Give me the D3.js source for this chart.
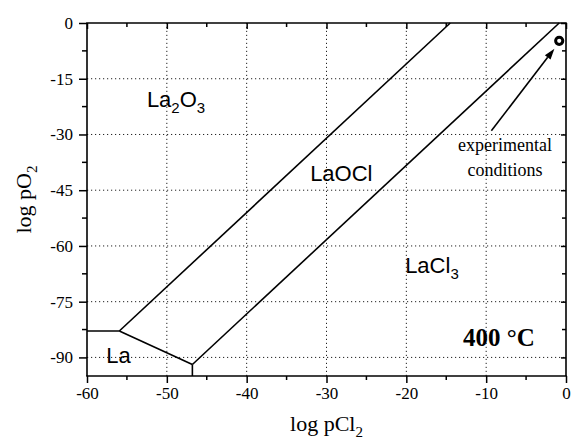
<!DOCTYPE html>
<html>
<head>
<meta charset="utf-8">
<script src="https://cdn.jsdelivr.net/npm/d3@7"></script>
<style>
  body { margin: 0; background: #fff; }
  text { fill: #000; }
</style>
</head>
<body>
<svg id="chart" width="572" height="440"></svg>
<script>
// Axis ranges and ticks (log pCl2 on x, log pO2 on y)
const xDomain = [-60, 0];
const yDomain = [-95, 0];
const xMajorTicks = [-60, -50, -40, -30, -20, -10, 0];
const xMinorTicks = [-55, -45, -35, -25, -15, -5];
const yMajorTicks = [0, -15, -30, -45, -60, -75, -90];
const yMinorTicks = [-7.5, -22.5, -37.5, -52.5, -67.5, -82.5];

// Phase boundaries, each a list of [log pCl2, log pO2] points
const boundaryLaLa2O3 = [[-60, -82.9], [-55.95, -82.9]];
const boundaryLaLaOCl = [[-55.95, -82.9], [-46.8, -91.9]];
const boundaryLaLaCl3 = [[-46.8, -91.9], [-46.8, -95]];
const boundaryLa2O3LaOCl = [[-55.95, -82.9], [-14.5, 0]];
const boundaryLaOClLaCl3 = [[-46.8, -91.9], [-0.85, 0]];

// Operating point of the experiment
const experimentalPoint = [-0.85, -4.8];

// Stability field names: main text and subscripts
const fieldNames = [
  { parts: [["La", false], ["2", true], ["O", false], ["3", true]], at: [-52.5, -22.5] },
  { parts: [["LaOCl", false]], at: [-32.05, -42.4] },
  { parts: [["LaCl", false], ["3", true]], at: [-20.15, -67.3] },
  { parts: [["La", false]], at: [-57.6, -91.5] }
];

const svg = d3.select("#chart");
const margin = { left: 87, right: 6, top: 23, bottom: 64 };
const W = 572, H = 440;
const x = d3.scaleLinear().domain(xDomain).range([margin.left, W - margin.right]);
const y = d3.scaleLinear().domain(yDomain).range([H - margin.bottom, margin.top]);

const serif = "'Liberation Serif', 'Times New Roman', serif";
const sans = "'Liberation Sans', Arial, sans-serif";
const plainFormat = d => String(d);

// Dotted grid at the major ticks
const grid = svg.append("g").attr("stroke", "#222").attr("stroke-width", 1)
  .attr("stroke-dasharray", "1.2,2.8");
grid.selectAll("line.gx").data(xMajorTicks.slice(1, -1)).join("line")
  .attr("class", "gx")
  .attr("x1", d => x(d)).attr("x2", d => x(d))
  .attr("y1", y(yDomain[0])).attr("y2", y(yDomain[1]));
grid.selectAll("line.gy").data(yMajorTicks.slice(1)).join("line")
  .attr("class", "gy")
  .attr("y1", d => y(d)).attr("y2", d => y(d))
  .attr("x1", x(xDomain[0])).attr("x2", x(xDomain[1]));

// Main axes: ticks pointing outward
const axisFont = g => g.selectAll("text").attr("font-family", serif).attr("font-size", 17);
const axisB = svg.append("g").attr("transform", `translate(0,${y(yDomain[0])})`)
  .call(d3.axisBottom(x).tickValues(xMajorTicks).tickSize(7).tickPadding(4).tickFormat(plainFormat))
  .call(axisFont);
axisB.append("g").selectAll("line").data(xMinorTicks).join("line")
  .attr("x1", d => x(d)).attr("x2", d => x(d)).attr("y1", 0).attr("y2", 4);

const axisL = svg.append("g").attr("transform", `translate(${x(xDomain[0])},0)`)
  .call(d3.axisLeft(y).tickValues(yMajorTicks).tickSize(8).tickPadding(6).tickFormat(plainFormat))
  .call(axisFont);
axisL.append("g").selectAll("line").data(yMinorTicks).join("line")
  .attr("y1", d => y(d)).attr("y2", d => y(d)).attr("x1", 0).attr("x2", -5);

// Mirror axes: ticks pointing inward, no labels
const axisT = svg.append("g").attr("transform", `translate(0,${y(yDomain[1])})`)
  .call(d3.axisTop(x).tickValues(xMajorTicks).tickSize(-6).tickFormat(""));
axisT.append("g").selectAll("line").data(xMinorTicks).join("line")
  .attr("x1", d => x(d)).attr("x2", d => x(d)).attr("y1", 0).attr("y2", 4);
const axisR = svg.append("g").attr("transform", `translate(${x(xDomain[1])},0)`)
  .call(d3.axisRight(y).tickValues(yMajorTicks).tickSize(-5).tickFormat(""));
axisR.append("g").selectAll("line").data(yMinorTicks).join("line")
  .attr("y1", d => y(d)).attr("y2", d => y(d)).attr("x1", 0).attr("x2", -4);

[axisB, axisL, axisT, axisR].forEach(g => {
  g.selectAll("line").attr("stroke-width", 1.5).attr("stroke", "#000");
  g.select(".domain").attr("stroke-width", 1.6).attr("stroke", "#000");
});
// straight domain lines without end caps
axisB.select(".domain").attr("d", `M${x(xDomain[0]) - 0.8},0H${x(xDomain[1]) + 0.8}`);
axisT.select(".domain").attr("d", `M${x(xDomain[0]) - 0.8},0H${x(xDomain[1]) + 0.8}`);
axisL.select(".domain").attr("d", `M0,${y(yDomain[0])}V${y(yDomain[1])}`);
axisR.select(".domain").attr("d", `M0,${y(yDomain[0])}V${y(yDomain[1])}`);

// Phase boundaries
const line = d3.line().x(d => x(d[0])).y(d => y(d[1]));
const boundaries = [boundaryLaLa2O3, boundaryLaLaOCl, boundaryLaLaCl3, boundaryLa2O3LaOCl, boundaryLaOClLaCl3];
svg.append("g").selectAll("path").data(boundaries).join("path")
  .attr("d", line).attr("fill", "none").attr("stroke", "#000").attr("stroke-width", 1.6);

// Field names
fieldNames.forEach(f => {
  const t = svg.append("text").attr("x", x(f.at[0])).attr("y", y(f.at[1]))
    .attr("font-family", sans).attr("font-size", 22);
  let shifted = false;
  f.parts.forEach(([s, sub]) => {
    const ts = t.append("tspan").text(s);
    if (sub) { ts.attr("font-size", 15); if (!shifted) { ts.attr("dy", 6); shifted = true; } }
    else if (shifted) { ts.attr("dy", -6); shifted = false; }
  });
});

// Temperature
svg.append("text").attr("x", x(-12.9)).attr("y", y(-87))
  .attr("font-family", serif).attr("font-size", 25).attr("font-weight", "bold").text("400 °C");

// Experimental point with annotation arrow
const px = x(experimentalPoint[0]), py = y(experimentalPoint[1]);
svg.append("circle").attr("cx", px).attr("cy", py).attr("r", 3.6)
  .attr("fill", "#fff").attr("stroke", "#000").attr("stroke-width", 3);

const tail = [x(-9.35), y(-29.0)];
const tip = [px - 4.8, py + 7.8];
const ang = Math.atan2(tip[1] - tail[1], tip[0] - tail[0]);
const hl = 11, hw = 3.6;
const base = [tip[0] - hl * Math.cos(ang), tip[1] - hl * Math.sin(ang)];
svg.append("line").attr("x1", tail[0]).attr("y1", tail[1]).attr("x2", base[0]).attr("y2", base[1])
  .attr("stroke", "#000").attr("stroke-width", 1.6);
svg.append("path").attr("fill", "#000").attr("d",
  `M${tip[0]},${tip[1]}L${base[0] + hw * Math.sin(ang)},${base[1] - hw * Math.cos(ang)}` +
  `L${base[0] - hw * Math.sin(ang)},${base[1] + hw * Math.cos(ang)}Z`);

svg.append("text").attr("x", 505).attr("y", 151).attr("text-anchor", "middle")
  .attr("font-family", serif).attr("font-size", 18).text("experimental");
svg.append("text").attr("x", 505).attr("y", 176).attr("text-anchor", "middle")
  .attr("font-family", serif).attr("font-size", 18).text("conditions");

// Axis titles
const xt = svg.append("text").attr("x", (x(xDomain[0]) + x(xDomain[1])) / 2).attr("y", 431)
  .attr("text-anchor", "middle").attr("font-family", serif).attr("font-size", 22);
xt.append("tspan").text("log pCl");
xt.append("tspan").attr("dy", 6).attr("font-size", 15).text("2");

const yt = svg.append("text")
  .attr("transform", `translate(31,${(y(yDomain[0]) + y(yDomain[1])) / 2}) rotate(-90)`)
  .attr("text-anchor", "middle").attr("font-family", serif).attr("font-size", 22);
yt.append("tspan").text("log pO");
yt.append("tspan").attr("dy", 6).attr("font-size", 15).text("2");
</script>
</body>
</html>
